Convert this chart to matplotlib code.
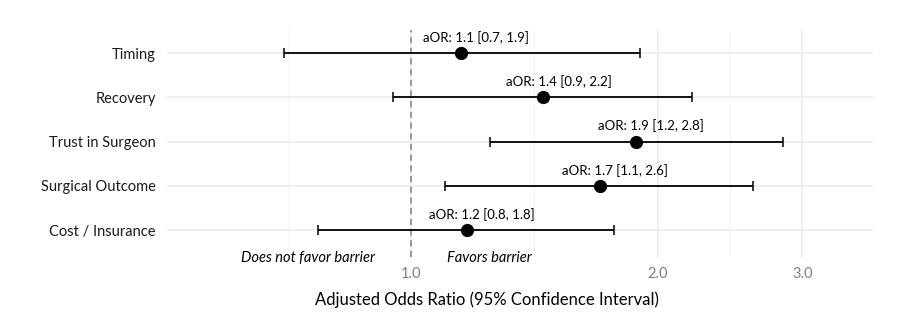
import matplotlib.pyplot as plt
import numpy as np

plt.rcParams["font.family"] = ["Lato", "DejaVu Sans"]

CATEGORIES = ["Timing", "Recovery", "Trust in Surgeon", "Surgical Outcome", "Cost / Insurance"]
AOR = [1.15, 1.45, 1.88, 1.70, 1.17]
CI_LOW = [0.70, 0.95, 1.25, 1.10, 0.77]
CI_HIGH = [1.90, 2.20, 2.84, 2.61, 1.77]
LABELS = ["aOR: 1.1 [0.7, 1.9]", "aOR: 1.4 [0.9, 2.2]", "aOR: 1.9 [1.2, 2.8]",
          "aOR: 1.7 [1.1, 2.6]", "aOR: 1.2 [0.8, 1.8]"]
MAJOR = [1.0, 2.0, 3.0]
MINOR = [np.sqrt(0.5), np.sqrt(2), np.sqrt(6)]

fig = plt.figure(figsize=(9.06, 3.21), dpi=100)
ax = fig.add_axes([0.1843, 0.1994, 0.7793, 0.7071])

ys = np.arange(len(CATEGORIES), 0, -1)
ax.set_xscale("log")
ax.set_xlim(0.504, 3.66)
ax.set_ylim(0.39, 5.52)

for x in MAJOR:
    ax.axvline(x, color="#ebebeb", lw=1.1, zorder=0)
for x in MINOR:
    ax.axvline(x, color="#f2f2f2", lw=0.6, zorder=0)
for y in ys:
    ax.axhline(y, color="#ebebeb", lw=1.1, zorder=0)

ax.axvline(1.0, color="#808080", lw=1.1, ls=(0, (4, 3)), zorder=1)

ax.errorbar(AOR, ys, xerr=[np.array(AOR) - np.array(CI_LOW), np.array(CI_HIGH) - np.array(AOR)],
            fmt="none", ecolor="black", elinewidth=1.3, capsize=3.5, capthick=1.1, zorder=2)
ax.plot(AOR, ys, "o", color="black", markersize=8.5, zorder=3)

for x, y, lab in zip(AOR, ys, LABELS):
    ax.annotate(lab, (x, y), xytext=(11, 6.5), textcoords="offset points",
                ha="center", va="bottom", fontsize=9.5, color="black")

ax.annotate("Does not favor barrier", (1.0, 0.37), xytext=(-26, 0), textcoords="offset points",
            ha="right", va="center", style="italic", fontsize=10.5, color="black",
            annotation_clip=False)
ax.annotate("Favors barrier", (1.0, 0.37), xytext=(26, 0), textcoords="offset points",
            ha="left", va="center", style="italic", fontsize=10.5, color="black",
            annotation_clip=False)

ax.set_yticks(ys)
ax.set_yticklabels(CATEGORIES, fontsize=10.5, color="#1a1a1a")
ax.set_xticks(MAJOR)
ax.set_xticklabels([f"{x:.1f}" for x in MAJOR], fontsize=10.5, color="#7f7f7f")
ax.xaxis.set_minor_locator(plt.NullLocator())
ax.tick_params(axis="both", length=0)
ax.tick_params(axis="y", pad=8)
ax.tick_params(axis="x", pad=7.5)

fig.text(0.538, 0.0654, "Adjusted Odds Ratio (95% Confidence Interval)", ha="center", va="center",
         fontsize=12, color="black")

for s in ax.spines.values():
    s.set_visible(False)

fig.savefig("out.png", dpi=100)
